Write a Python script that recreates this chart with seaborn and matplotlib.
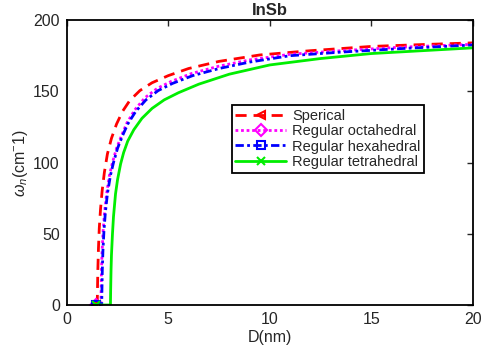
import matplotlib
matplotlib.use("Agg")
import matplotlib.pyplot as plt
from matplotlib.lines import Line2D
import seaborn as sns
import pandas as pd

sns.set_style("white")
plt.rcParams['font.family'] = ['Liberation Sans', 'DejaVu Sans']
plt.rcParams['mathtext.fontset'] = 'custom'
plt.rcParams['mathtext.it'] = 'Liberation Sans:italic'
plt.rcParams['mathtext.rm'] = 'Liberation Sans'

labels = ["Sperical", "Regular octahedral", "Regular hexahedral", "Regular tetrahedral"]

D_sph = [1.45, 1.5, 1.51, 1.53, 1.56, 1.6, 1.66, 1.74, 1.85, 2.0, 2.2, 2.45, 2.75, 3.1, 3.6,
         4.2, 5.0, 6.0, 7.5, 9.5, 12, 15, 17.5, 20]
w_sph = [0, 0, 10, 25, 40, 54, 67, 80, 93, 106, 117, 127, 136, 143.5, 150.5,
         156, 161, 166, 171, 175.5, 178.5, 181.5, 182.8, 184]

D_oct = [1.45, 1.68, 1.69, 1.71, 1.74, 1.79, 1.86, 1.96, 2.1, 2.25, 2.45, 2.7, 2.95, 3.35, 3.85,
         4.45, 5.15, 6.15, 7.45, 9, 11, 13.5, 16.5, 20]
w_oct = [0, 0, 10, 25, 38, 52, 65, 78, 91, 100, 110, 119, 127.5, 137, 145.5,
         152, 157, 162.5, 167.5, 172, 176, 178.5, 181, 183]

D_hex = [1.45, 1.72, 1.73, 1.75, 1.78, 1.83, 1.9, 2.0, 2.15, 2.3, 2.5, 2.75, 3.0, 3.4, 3.9,
         4.5, 5.2, 6.2, 7.5, 9, 11, 13.5, 16.5, 20]
w_hex = [0, 0, 10, 25, 38, 52, 65, 78, 91, 100, 110, 119, 127, 136, 144,
         150.5, 155.5, 161, 166, 170.5, 175, 177.5, 180, 182.5]

D_tet = [1.45, 2.15, 2.16, 2.18, 2.2, 2.25, 2.3, 2.4, 2.5, 2.65, 2.8, 3.0, 3.3, 3.7, 4.2,
         4.8, 5.5, 6.5, 8, 10, 12.5, 15, 17.5, 20]
w_tet = [0, 0, 10, 25, 35, 50, 62, 78, 88, 99, 107, 115, 123, 131, 138,
         144, 149, 155, 162, 168.5, 173, 176.5, 178.5, 180.5]

x_ticks = [0, 5, 10, 15, 20]
y_ticks = [0, 50, 100, 150, 200]

series = [
    (D_sph, w_sph, '#ff0000', (0, (4, 2.5)), '<', 'none'),
    (D_oct, w_oct, '#ff00ff', (0, (1, 1)), 'D', 'none'),
    (D_hex, w_hex, '#0000ff', (0, (3, 1.2, 1, 1.2)), 's', 'none'),
    (D_tet, w_tet, '#00ee00', '-', 'x', None),
]

fig = plt.figure(figsize=(4.84, 3.52), dpi=100)
ax = fig.add_axes([0.138, 0.1335, 0.839, 0.8095])

handles = []
for (D, w, c, ls, m, fc), lab in zip(series, labels):
    df = pd.DataFrame({"D": D, "w": w})
    sns.lineplot(data=df, x="D", y="w", ax=ax, color=c, linestyle=ls, linewidth=2,
                 sort=False, estimator=None, marker=m, markevery=[0], markersize=6,
                 markeredgewidth=1.5, markerfacecolor='none' if fc == 'none' else c,
                 markeredgecolor=c)
    handles.append(Line2D([0], [0], color=c, linestyle=ls, linewidth=2, marker=m,
                          markersize=6, markeredgewidth=1.5,
                          markerfacecolor='none' if fc == 'none' else c, markeredgecolor=c))

ax.set_xlim(0, 20)
ax.set_ylim(0, 200)
ax.set_xticks(x_ticks)
ax.set_yticks(y_ticks)
ax.tick_params(direction='in', length=4, width=1, top=True, right=True,
               labelsize=11.5, colors='#262626', pad=5)
for t in ax.get_xticklabels() + ax.get_yticklabels():
    t.set_color('#262626')
for s in ax.spines.values():
    s.set_color('black')
    s.set_linewidth(1.3)

ax.set_xlabel("D(nm)", fontsize=11.5, color='#262626', labelpad=2)
ax.set_ylabel(r"$\omega_n$(cm$^{-}$1)", fontsize=11.5, color='#262626', labelpad=2)
ax.set_title("InSb", fontsize=12, fontweight='bold', pad=4)

leg = ax.legend(handles, labels, loc='upper left', bbox_to_anchor=(0.406, 0.702),
                fontsize=10.5, frameon=True, fancybox=False, framealpha=1,
                handlelength=3.5, handletextpad=0.4, borderpad=0.25,
                labelspacing=0.1, borderaxespad=0)
leg.get_frame().set_edgecolor('black')
leg.get_frame().set_linewidth(1.3)
for t in leg.get_texts():
    t.set_color('#262626')

fig.savefig("out.png", dpi=100)
